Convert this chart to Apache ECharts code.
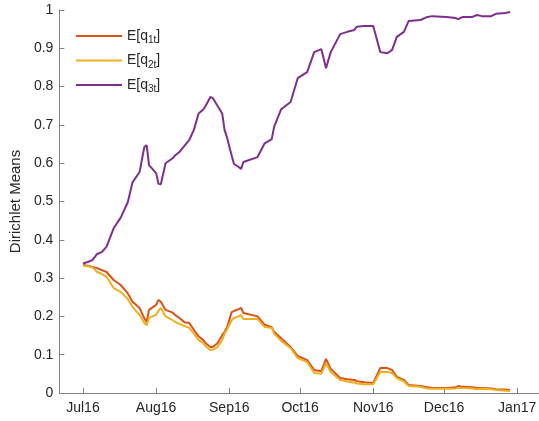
<!DOCTYPE html>
<html>
<head>
<meta charset="utf-8">
<script src="https://cdn.jsdelivr.net/npm/echarts@6/dist/echarts.min.js"></script>
<style>
  html, body { margin: 0; padding: 0; background: #fff; }
  #chart { width: 539px; height: 421px; }
</style>
</head>
<body>
<div id="chart"></div>
<script>
// dates of the estimates
var dates = [
    '2016-07-01', '2016-07-03', '2016-07-05', '2016-07-07', '2016-07-09', '2016-07-11',
    '2016-07-14', '2016-07-17', '2016-07-20', '2016-07-22', '2016-07-25', '2016-07-27',
    '2016-07-28', '2016-07-29', '2016-08-01', '2016-08-02', '2016-08-03', '2016-08-05',
    '2016-08-08', '2016-08-09', '2016-08-11', '2016-08-13', '2016-08-15', '2016-08-17',
    '2016-08-19', '2016-08-21', '2016-08-22', '2016-08-24', '2016-08-25', '2016-08-27',
    '2016-08-29', '2016-08-30', '2016-08-31', '2016-09-02', '2016-09-03', '2016-09-05',
    '2016-09-06', '2016-09-07', '2016-09-13', '2016-09-16', '2016-09-19', '2016-09-20',
    '2016-09-23', '2016-09-27', '2016-09-30', '2016-10-04', '2016-10-07', '2016-10-10',
    '2016-10-12', '2016-10-14', '2016-10-18', '2016-10-21', '2016-10-24', '2016-10-25',
    '2016-10-28', '2016-11-01', '2016-11-04', '2016-11-07', '2016-11-09', '2016-11-11',
    '2016-11-14', '2016-11-16', '2016-11-21', '2016-11-24', '2016-11-26', '2016-12-02',
    '2016-12-06', '2016-12-07', '2016-12-09', '2016-12-13', '2016-12-15', '2016-12-17',
    '2016-12-21', '2016-12-23', '2016-12-27', '2016-12-29'
];
// E[q1t]
var q1 = [
    0.334, 0.332, 0.329, 0.326, 0.321, 0.316,
    0.295, 0.282, 0.260, 0.238, 0.222, 0.195,
    0.185, 0.217, 0.230, 0.243, 0.238, 0.217,
    0.210, 0.204, 0.195, 0.185, 0.183, 0.165,
    0.148, 0.138, 0.130, 0.120, 0.120, 0.130,
    0.151, 0.160, 0.170, 0.211, 0.214, 0.219,
    0.222, 0.209, 0.200, 0.178, 0.172, 0.160,
    0.143, 0.120, 0.097, 0.086, 0.060, 0.057,
    0.089, 0.063, 0.039, 0.036, 0.034, 0.031,
    0.028, 0.026, 0.065, 0.065, 0.060, 0.042,
    0.034, 0.021, 0.018, 0.015, 0.013, 0.013,
    0.015, 0.018, 0.016, 0.015, 0.013, 0.013,
    0.012, 0.010, 0.009, 0.008
];
// E[q2t]
var q2 = [
    0.332, 0.331, 0.328, 0.316, 0.311, 0.303,
    0.274, 0.264, 0.245, 0.225, 0.204, 0.183,
    0.177, 0.196, 0.204, 0.215, 0.222, 0.200,
    0.190, 0.186, 0.180, 0.175, 0.170, 0.155,
    0.138, 0.130, 0.122, 0.112, 0.113, 0.120,
    0.138, 0.155, 0.165, 0.190, 0.196, 0.200,
    0.204, 0.193, 0.193, 0.172, 0.170, 0.155,
    0.136, 0.117, 0.091, 0.081, 0.052, 0.050,
    0.078, 0.055, 0.034, 0.030, 0.027, 0.025,
    0.023, 0.023, 0.055, 0.055, 0.052, 0.039,
    0.030, 0.018, 0.016, 0.012, 0.011, 0.011,
    0.012, 0.014, 0.013, 0.012, 0.010, 0.011,
    0.010, 0.008, 0.006, 0.005
];
// E[q3t]
var q3 = [
    0.338, 0.342, 0.347, 0.363, 0.368, 0.382,
    0.430, 0.458, 0.498, 0.550, 0.577, 0.642,
    0.647, 0.595, 0.574, 0.546, 0.545, 0.600,
    0.613, 0.620, 0.630, 0.645, 0.660, 0.687,
    0.730, 0.740, 0.750, 0.773, 0.770, 0.750,
    0.730, 0.687, 0.668, 0.620, 0.598, 0.590,
    0.585, 0.603, 0.616, 0.652, 0.663, 0.695,
    0.741, 0.760, 0.822, 0.838, 0.890, 0.898,
    0.848, 0.890, 0.937, 0.943, 0.948, 0.956,
    0.958, 0.958, 0.890, 0.887, 0.896, 0.930,
    0.943, 0.971, 0.974, 0.982, 0.984, 0.982,
    0.979, 0.976, 0.982, 0.982, 0.987, 0.984,
    0.984, 0.990, 0.992, 0.995
];
var monthNames = ['Jan', 'Feb', 'Mar', 'Apr', 'May', 'Jun', 'Jul', 'Aug', 'Sep', 'Oct', 'Nov', 'Dec'];

var textColor = '#262626';
var axisColor = '#808080';
var day = 24 * 3600 * 1000;

function pairs(vals) {
    return dates.map(function (d, i) {
        return [d, vals[i]];
    });
}

var chart = echarts.init(document.getElementById('chart'));
var option = {
    animation: false,
    backgroundColor: '#fff',
    textStyle: {fontFamily: 'Liberation Sans, Arial, sans-serif'},
    grid: {left: 54, right: 0, top: 10, bottom: 28, containLabel: false},
    legend: {
        orient: 'vertical',
        left: 71,
        top: 24,
        icon: 'rect',
        itemWidth: 46,
        itemHeight: 2,
        itemGap: 8,
        data: ['q1', 'q2', 'q3'],
        formatter: function (name) {
            return '{main|E[q}{sub|' + name.slice(1) + 't}{main|]}';
        },
        textStyle: {
            color: textColor,
            fontSize: 14,
            rich: {
                main: {fontSize: 14, lineHeight: 17, color: textColor},
                sub: {fontSize: 10, color: textColor, padding: [9, 0, 0, 0]}
            }
        }
    },
    xAxis: {
        type: 'time',
        min: '2016-06-21',
        max: '2017-01-10',
        minInterval: 28 * day,
        maxInterval: 31 * day,
        axisLine: {lineStyle: {color: axisColor, width: 1}},
        axisTick: {inside: true, length: 5, lineStyle: {color: axisColor}},
        splitLine: {show: false},
        axisLabel: {
            color: textColor,
            fontSize: 14,
            margin: 8,
            hideOverlap: false,
            formatter: function (val) {
                var d = new Date(val);
                return monthNames[d.getMonth()] + String(d.getFullYear()).slice(2);
            }
        }
    },
    yAxis: {
        type: 'value',
        min: 0,
        max: 1,
        interval: 0.1,
        name: 'Dirichlet Means',
        nameLocation: 'middle',
        nameGap: 36,
        nameTextStyle: {color: textColor, fontSize: 15},
        axisLine: {show: true, lineStyle: {color: axisColor, width: 1}},
        axisTick: {show: true, inside: true, length: 5, lineStyle: {color: axisColor}},
        splitLine: {show: false},
        axisLabel: {
            color: textColor,
            fontSize: 14,
            margin: 6,
            formatter: function (v) {
                return String(Math.round(v * 10) / 10);
            }
        }
    },
    series: [
        {name: 'q1', type: 'line', data: pairs(q1), symbol: 'none', color: '#D95319', lineStyle: {width: 2}},
        {name: 'q2', type: 'line', data: pairs(q2), symbol: 'none', color: '#EDB120', lineStyle: {width: 2}},
        {name: 'q3', type: 'line', data: pairs(q3), symbol: 'none', color: '#7E2F8E', lineStyle: {width: 2}}
    ]
};
chart.setOption(option);
</script>
</body>
</html>
